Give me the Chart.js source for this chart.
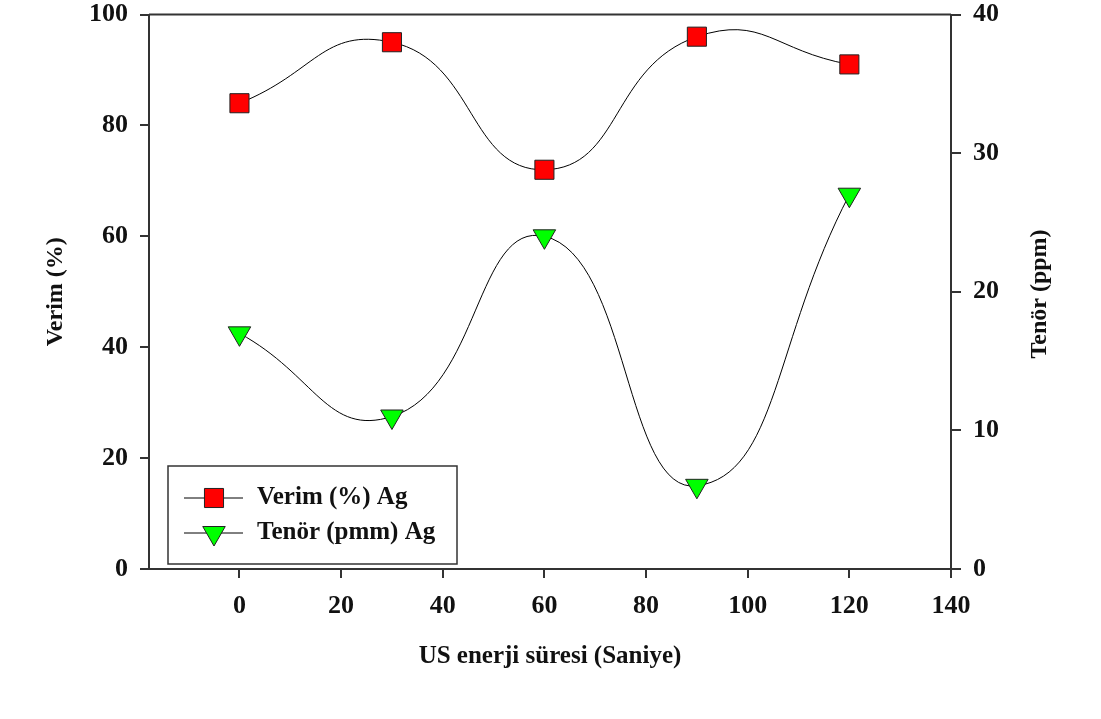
<!DOCTYPE html>
<html>
<head>
<meta charset="utf-8">
<script src="https://cdn.jsdelivr.net/npm/chart.js@4/dist/chart.umd.min.js"></script>
<style>
  html, body { margin: 0; padding: 0; background: #ffffff; }
  #wrap { width: 1101px; height: 719px; }
</style>
</head>
<body>
<div id="wrap"><canvas id="c" width="1101" height="719"></canvas></div>
<script>
// ---- data ----
const xValues = [0, 30, 60, 90, 120];
const verimValues = [84, 95, 72, 96, 91];     // left axis (%)
const tenorValues = [17, 11, 24, 6, 27];      // right axis (ppm)
const xTickValues = [0, 20, 40, 60, 80, 100, 120, 140];
const leftTickValues = [0, 20, 40, 60, 80, 100];
const rightTickValues = [0, 10, 20, 30, 40];
const seriesNames = ['Verim (%) Ag', 'Tenör (pmm) Ag'];
const xTitle = 'US enerji süresi (Saniye)';
const leftTitle = 'Verim (%)';
const rightTitle = 'Tenör (ppm)';
const xMin = -17.8, xMax = 140;

const FONT = "'Liberation Serif', 'Times New Roman', serif";
const AXIS = '#333333';

function fixTicks(values) {
  return function (scale) { scale.ticks = values.map(v => ({ value: v })); };
}
function noPad(s) {
  s.paddingTop = 0; s.paddingBottom = 0; s.paddingLeft = 0; s.paddingRight = 0;
}

const extras = {
  id: 'extras',
  afterDraw(chart) {
    const ctx = chart.ctx;
    const a = chart.chartArea;
    ctx.save();
    // top frame line
    ctx.strokeStyle = AXIS;
    ctx.lineWidth = 2;
    ctx.beginPath();
    ctx.moveTo(a.left, a.top);
    ctx.lineTo(a.right, a.top);
    ctx.stroke();

    // right title (reads bottom to top)
    ctx.fillStyle = '#111';
    ctx.font = "bold 24px " + FONT;
    ctx.textAlign = 'center';
    ctx.textBaseline = 'middle';
    ctx.translate(1040, 294);
    ctx.rotate(-Math.PI / 2);
    ctx.fillText(rightTitle, 0, 0);
    ctx.restore();

    // legend box
    ctx.save();
    const bx = 168, by = 466, bw = 289, bh = 98;
    ctx.fillStyle = '#ffffff';
    ctx.fillRect(bx, by, bw, bh);
    ctx.strokeStyle = AXIS;
    ctx.lineWidth = 1.5;
    ctx.strokeRect(bx, by, bw, bh);
    const rows = [498, 533];
    chart.data.datasets.forEach((ds, i) => {
      const y = rows[i];
      ctx.strokeStyle = '#000';
      ctx.lineWidth = 1;
      ctx.beginPath();
      ctx.moveTo(184, y);
      ctx.lineTo(243, y);
      ctx.stroke();
      ctx.fillStyle = ds.pointBackgroundColor;
      ctx.strokeStyle = ds.pointBorderColor;
      ctx.lineWidth = 1;
      Chart.helpers.drawPoint(ctx, {
        pointStyle: ds.pointStyle,
        rotation: ds.pointRotation || 0,
        radius: ds.pointRadius,
        borderWidth: 1
      }, 214, y);
      ctx.fillStyle = '#111';
      ctx.font = "bold 25px " + FONT;
      ctx.textAlign = 'left';
      ctx.textBaseline = 'middle';
      ctx.fillText(ds.label, 257, y);
    });
    ctx.restore();
  }
};

new Chart(document.getElementById('c'), {
  type: 'line',
  data: {
    datasets: [
      {
        label: seriesNames[0],
        data: xValues.map((x, i) => ({ x: x, y: verimValues[i] })),
        yAxisID: 'y',
        borderColor: '#000000',
        borderWidth: 1,
        tension: 0.5,
        pointStyle: 'rect',
        pointRadius: 13.5,
        pointBackgroundColor: '#ff0000',
        pointBorderColor: '#222222',
        pointBorderWidth: 1,
        clip: false
      },
      {
        label: seriesNames[1],
        data: xValues.map((x, i) => ({ x: x, y: tenorValues[i] })),
        yAxisID: 'y2',
        borderColor: '#000000',
        borderWidth: 1,
        tension: 0.5,
        pointStyle: 'triangle',
        pointRotation: 180,
        pointRadius: 13,
        pointBackgroundColor: '#00ff00',
        pointBorderColor: '#222222',
        pointBorderWidth: 1,
        clip: false
      }
    ]
  },
  options: {
    responsive: false,
    animation: false,
    events: [],
    layout: { padding: { top: 13, left: 0, right: 0, bottom: 0 } },
    plugins: { legend: { display: false }, tooltip: { enabled: false } },
    scales: {
      x: {
        type: 'linear',
        position: 'bottom',
        min: xMin,
        max: xMax,
        afterBuildTicks: fixTicks(xTickValues),
        afterFit(s) { s.height = 150; noPad(s); },
        border: { display: true, color: AXIS, width: 2 },
        grid: { display: true, drawOnChartArea: false, drawTicks: true, tickLength: 9, color: AXIS, lineWidth: 2 },
        ticks: { color: '#111', padding: 13, font: { family: FONT, size: 26, weight: 'bold' }, maxRotation: 0 },
        title: { display: true, text: xTitle, color: '#111', font: { family: FONT, size: 25, weight: 'bold' }, padding: { top: 0, bottom: 47 } }
      },
      y: {
        type: 'linear',
        position: 'left',
        min: 0,
        max: 100,
        afterBuildTicks: fixTicks(leftTickValues),
        afterFit(s) { s.width = 149; noPad(s); },
        border: { display: true, color: AXIS, width: 2 },
        grid: { display: true, drawOnChartArea: false, drawTicks: true, tickLength: 9, color: AXIS, lineWidth: 2 },
        ticks: { color: '#111', padding: 12, font: { family: FONT, size: 26, weight: 'bold' } },
        title: { display: true, text: leftTitle, color: '#111', font: { family: FONT, size: 24, weight: 'bold' }, padding: { top: 41, bottom: 0 } }
      },
      y2: {
        type: 'linear',
        position: 'right',
        min: 0,
        max: 40,
        afterBuildTicks: fixTicks(rightTickValues),
        afterFit(s) { s.width = 150; noPad(s); },
        border: { display: true, color: AXIS, width: 2 },
        grid: { display: true, drawOnChartArea: false, drawTicks: true, tickLength: 10, color: AXIS, lineWidth: 2 },
        ticks: { color: '#111', padding: 12, font: { family: FONT, size: 26, weight: 'bold' } },
        title: { display: false }
      }
    }
  },
  plugins: [extras]
});
</script>
</body>
</html>
